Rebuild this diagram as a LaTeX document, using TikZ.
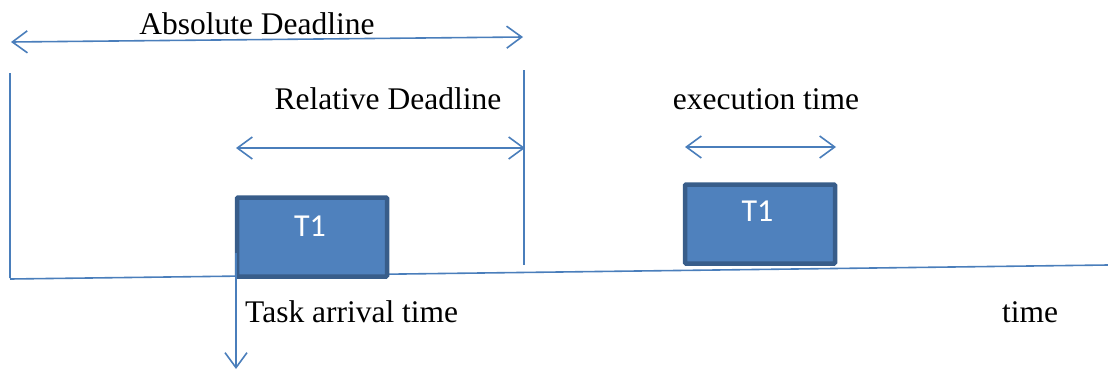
\documentclass[tikz,border=0pt]{standalone}
\usepackage{fontspec}
\setmainfont{Liberation Serif}
\newfontfamily\boxfont{Carlito}
\usetikzlibrary{arrows.meta}
\definecolor{linkblue}{HTML}{4A7EBB}
\definecolor{taskfill}{HTML}{4F81BD}
\definecolor{taskedge}{HTML}{385D8A}
\tikzset{
  guide/.style={draw=linkblue, line width=1.6pt},
  span/.style={guide, {Straight Barb[length=15pt,width=22pt,line width=1.6pt]}-{Straight Barb[length=15pt,width=22pt,line width=1.6pt]}},
  downarrow/.style={guide, -{Straight Barb[length=15pt,width=22pt,line width=1.6pt]}},
  taskbox/.style={draw=taskedge, fill=taskfill, line width=4.5pt, rounded corners=1pt,
    minimum width=150pt, minimum height=79pt, inner sep=0pt, outer sep=0pt},
  tasklabel/.style={text=white, inner sep=0pt, font=\boxfont\fontsize{32}{38}\selectfont},
  caption/.style={font=\fontsize{31.5}{38}\selectfont, inner sep=0pt, text=black}
}
\begin{document}
\begin{tikzpicture}[x=1pt, y=-1pt]
\useasboundingbox (0,0) rectangle (1108,370);

% time axis (slightly rising to the right)
\coordinate (ax0) at (10,279);
\coordinate (ax1) at (1108,265);
\draw[guide] (ax0) -- (ax1);

% task boxes
\node[taskbox] (box1) at (312,237) {};
\node[tasklabel] (t1a) at (310,226.5) {T1};
\node[taskbox] (box2) at (760,224) {};
\node[tasklabel] (t1b) at (757.5,211) {T1};

% boundary markers
\coordinate (lmTop) at (10,73);
\coordinate (lmBot) at (10,278);
\draw[guide] (lmTop) -- (lmBot);
\coordinate (rmTop) at (524,70);
\coordinate (rmBot) at (524,265);
\draw[guide] (rmTop) -- (rmBot);

% absolute deadline
\coordinate (absL) at (11,42);
\coordinate (absR) at (523,37);
\draw[span] (absL) -- (absR);
\node[caption] (absText) at (257,24) {Absolute Deadline};

% relative deadline
\coordinate (relL) at (236,148);
\coordinate (relR) at (525,148);
\draw[span] (relL) -- (relR);
\node[caption] (relText) at (388,99) {Relative Deadline};

% execution time
\coordinate (exeL) at (685,147);
\coordinate (exeR) at (836,147);
\draw[span] (exeL) -- (exeR);
\node[caption] (exeText) at (766,99) {execution time};

% task arrival
\coordinate (arrTop) at (236,253);
\coordinate (arrBot) at (236,369);
\draw[downarrow] (arrTop) -- (arrBot);
\node[caption, anchor=west] (arrText) at (245,312) {Task arrival time};

% time label
\node[caption] (timeText) at (1030,312) {time};
\end{tikzpicture}
\end{document}
